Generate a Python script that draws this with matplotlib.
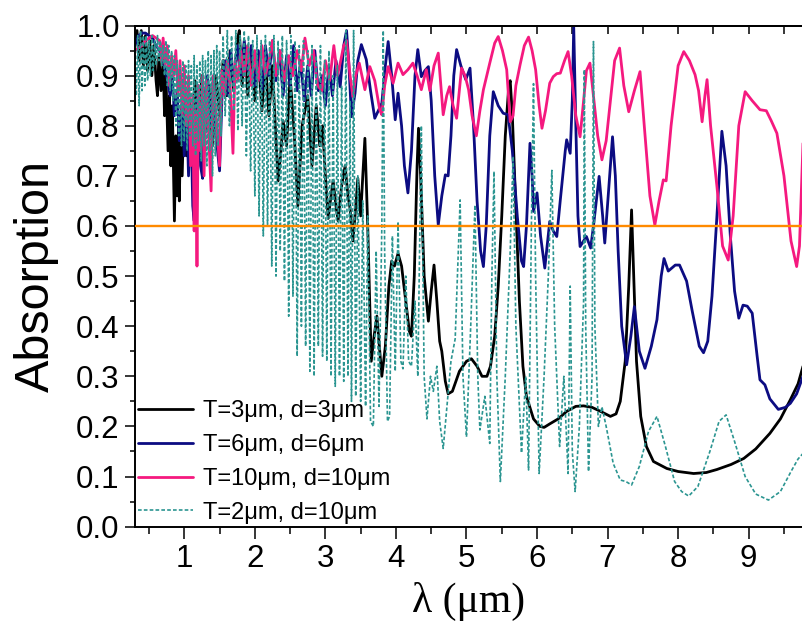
import matplotlib
matplotlib.use("Agg")
import matplotlib.pyplot as plt
from matplotlib.ticker import MultipleLocator

# ---------------- data ----------------
labels = ["T=3μm, d=3μm", "T=6μm, d=6μm", "T=10μm, d=10μm", "T=2μm, d=10μm"]
threshold = 0.6

black_x = [0.30, 0.33, 0.36, 0.39, 0.42, 0.45, 0.48, 0.51, 0.54, 0.57,
           0.60, 0.62, 0.64, 0.67, 0.70, 0.72, 0.74, 0.77, 0.79, 0.81,
           0.83, 0.86, 0.88, 0.90, 0.92, 0.93, 0.95, 0.97, 1.00, 1.03,
           1.06, 1.10, 1.15, 1.20, 1.25, 1.30, 1.35, 1.40, 1.45, 1.50,
           1.55, 1.60, 1.65, 1.70, 1.75, 1.78, 1.82, 1.86, 1.90, 1.95,
           2.00, 2.05, 2.10, 2.15, 2.20, 2.25, 2.29, 2.33, 2.37, 2.40,
           2.45, 2.50, 2.56, 2.61, 2.67, 2.75, 2.81, 2.87, 2.92, 2.96,
           3.00, 3.04, 3.08, 3.11, 3.15, 3.18, 3.23, 3.28, 3.32, 3.35,
           3.39, 3.42, 3.46, 3.50, 3.53, 3.56, 3.60, 3.65, 3.69, 3.73,
           3.77, 3.80, 3.85, 3.90, 3.94, 3.98, 4.03, 4.08, 4.14, 4.19,
           4.22, 4.26, 4.30, 4.32, 4.35, 4.40, 4.46, 4.50, 4.54, 4.58,
           4.62, 4.65, 4.70, 4.74, 4.80, 4.90, 5.00, 5.07, 5.15, 5.22,
           5.29, 5.34, 5.40, 5.45, 5.50, 5.55, 5.60, 5.62, 5.65, 5.71,
           5.75, 5.80, 5.85, 5.95, 6.04, 6.10, 6.18, 6.30, 6.42, 6.55,
           6.66, 6.78, 6.90, 7.04, 7.12, 7.18, 7.25, 7.30, 7.34, 7.37,
           7.41, 7.47, 7.55, 7.65, 7.84, 8.00, 8.22, 8.40, 8.55, 8.75,
           8.93, 9.10, 9.30, 9.45, 9.59, 9.70, 9.77]
black_y = [0.97, 0.99, 0.93, 0.99, 0.92, 0.98, 0.91, 0.97, 0.90, 0.96,
           0.89, 0.86, 0.94, 0.87, 0.93, 0.82, 0.90, 0.75, 0.86, 0.72,
           0.84, 0.61, 0.78, 0.66, 0.80, 0.65, 0.82, 0.70, 0.86, 0.74,
           0.88, 0.76, 0.89, 0.80, 0.90, 0.79, 0.88, 0.76, 0.90, 0.82,
           0.93, 0.86, 0.95, 0.87, 0.97, 0.99, 0.88, 0.96, 0.86, 0.95,
           0.85, 0.94, 0.83, 0.93, 0.82, 0.92, 0.80, 0.69, 0.75, 0.81,
           0.76, 0.90, 0.78, 0.64, 0.80, 0.86, 0.72, 0.84, 0.76, 0.80,
           0.70, 0.615, 0.66, 0.69, 0.64, 0.61, 0.68, 0.72, 0.66, 0.635,
           0.57, 0.62, 0.695, 0.62, 0.70, 0.775, 0.60, 0.33, 0.38, 0.42,
           0.35, 0.30, 0.36, 0.48, 0.53, 0.52, 0.545, 0.52, 0.45, 0.39,
           0.38, 0.50, 0.72, 0.795, 0.70, 0.50, 0.41, 0.47, 0.522, 0.45,
           0.37, 0.35, 0.29, 0.265, 0.27, 0.31, 0.33, 0.335, 0.32, 0.30,
           0.30, 0.32, 0.38, 0.48, 0.62, 0.78, 0.88, 0.89, 0.82, 0.60,
           0.45, 0.32, 0.26, 0.215, 0.20, 0.198, 0.205, 0.215, 0.23, 0.24,
           0.241, 0.238, 0.23, 0.22, 0.225, 0.25, 0.33, 0.48, 0.632, 0.50,
           0.33, 0.22, 0.16, 0.13, 0.116, 0.11, 0.106, 0.108, 0.114, 0.124,
           0.136, 0.155, 0.186, 0.215, 0.253, 0.285, 0.32]

navy_x = [0.30, 0.35, 0.40, 0.45, 0.50, 0.55, 0.60, 0.65, 0.70, 0.75,
          0.80, 0.83, 0.86, 0.90, 0.93, 0.97, 1.00, 1.03, 1.06, 1.09,
          1.12, 1.14, 1.16, 1.20, 1.23, 1.26, 1.29, 1.33, 1.37, 1.41,
          1.45, 1.50, 1.54, 1.58, 1.62, 1.66, 1.70, 1.75, 1.80, 1.85,
          1.90, 1.95, 2.00, 2.05, 2.10, 2.15, 2.20, 2.25, 2.30, 2.35,
          2.40, 2.45, 2.50, 2.55, 2.60, 2.65, 2.70, 2.75, 2.80, 2.85,
          2.90, 2.95, 3.00, 3.05, 3.10, 3.15, 3.21, 3.26, 3.30, 3.33,
          3.37, 3.42, 3.46, 3.51, 3.58, 3.64, 3.70, 3.75, 3.80, 3.85,
          3.89, 3.94, 3.99, 4.03, 4.08, 4.12, 4.17, 4.22, 4.27, 4.31,
          4.36, 4.41, 4.46, 4.50, 4.55, 4.60, 4.65, 4.70, 4.74, 4.78,
          4.82, 4.86, 4.92, 4.99, 5.05, 5.10, 5.15, 5.20, 5.24, 5.28,
          5.33, 5.38, 5.45, 5.52, 5.59, 5.65, 5.72, 5.78, 5.81, 5.85,
          5.90, 5.93, 5.95, 6.00, 6.05, 6.11, 6.18, 6.23, 6.28, 6.33,
          6.40, 6.42, 6.47, 6.50, 6.52, 6.55, 6.58, 6.61, 6.70, 6.76,
          6.80, 6.88, 6.93, 6.96, 7.02, 7.07, 7.11, 7.15, 7.20, 7.27,
          7.33, 7.38, 7.45, 7.53, 7.62, 7.70, 7.76, 7.80, 7.86, 7.96,
          8.02, 8.12, 8.20, 8.30, 8.36, 8.42, 8.48, 8.55, 8.62, 8.68,
          8.74, 8.80, 8.86, 8.92, 8.98, 9.05, 9.12, 9.16, 9.23, 9.30,
          9.42, 9.52, 9.59, 9.68, 9.77]
navy_y = [0.96, 0.98, 0.985, 0.985, 0.98, 0.975, 0.96, 0.95, 0.93, 0.90,
          0.86, 0.90, 0.82, 0.87, 0.77, 0.85, 0.74, 0.86, 0.70, 0.84,
          0.64, 0.61, 0.80, 0.88, 0.72, 0.695, 0.86, 0.90, 0.80, 0.89,
          0.78, 0.71, 0.88, 0.93, 0.86, 0.95, 0.88, 0.96, 0.90, 0.97,
          0.91, 0.96, 0.88, 0.95, 0.87, 0.96, 0.90, 0.97, 0.89, 0.95,
          0.86, 0.94, 0.88, 0.96, 0.87, 0.93, 0.85, 0.92, 0.86, 0.95,
          0.87, 0.90, 0.84, 0.92, 0.86, 0.93, 0.878, 0.96, 0.99, 0.93,
          0.818, 0.865, 0.93, 0.962, 0.932, 0.87, 0.815, 0.83, 0.845, 0.92,
          0.968, 0.90, 0.812, 0.865, 0.80, 0.72, 0.666, 0.75, 0.90, 0.952,
          0.898, 0.91, 0.918, 0.85, 0.70, 0.602, 0.66, 0.702, 0.70, 0.78,
          0.90, 0.952, 0.92, 0.892, 0.915, 0.80, 0.65, 0.55, 0.519, 0.60,
          0.78, 0.868, 0.84, 0.825, 0.822, 0.75, 0.62, 0.53, 0.519, 0.60,
          0.765, 0.70, 0.629, 0.666, 0.58, 0.516, 0.609, 0.59, 0.579, 0.652,
          0.75, 0.772, 0.745, 0.85, 0.998, 0.80, 0.62, 0.559, 0.579, 0.556,
          0.60, 0.699, 0.62, 0.566, 0.68, 0.778, 0.70, 0.55, 0.40, 0.323,
          0.38, 0.439, 0.35, 0.316, 0.36, 0.413, 0.50, 0.535, 0.51, 0.522,
          0.522, 0.49, 0.43, 0.36, 0.347, 0.37, 0.46, 0.62, 0.789, 0.72,
          0.58, 0.47, 0.416, 0.442, 0.44, 0.426, 0.34, 0.293, 0.283, 0.255,
          0.234, 0.238, 0.246, 0.265, 0.30]

pink_x = [0.30, 0.35, 0.40, 0.45, 0.50, 0.55, 0.60, 0.65, 0.68, 0.70,
          0.73, 0.76, 0.79, 0.82, 0.85, 0.88, 0.91, 0.94, 0.97, 1.00,
          1.03, 1.06, 1.09, 1.12, 1.14, 1.16, 1.18, 1.20, 1.23, 1.26,
          1.28, 1.31, 1.34, 1.38, 1.41, 1.45, 1.50, 1.53, 1.57, 1.61,
          1.65, 1.69, 1.72, 1.76, 1.80, 1.85, 1.90, 1.95, 2.00, 2.05,
          2.10, 2.15, 2.20, 2.25, 2.30, 2.36, 2.42, 2.48, 2.54, 2.60,
          2.66, 2.71, 2.77, 2.83, 2.89, 2.95, 3.00, 3.06, 3.12, 3.17,
          3.21, 3.26, 3.30, 3.35, 3.39, 3.43, 3.48, 3.56, 3.63, 3.70,
          3.77, 3.80, 3.84, 3.89, 3.96, 4.03, 4.10, 4.17, 4.24, 4.30,
          4.36, 4.43, 4.48, 4.54, 4.60, 4.67, 4.72, 4.76, 4.81, 4.86,
          4.93, 4.98, 5.03, 5.08, 5.14, 5.19, 5.24, 5.33, 5.40, 5.45,
          5.51, 5.57, 5.62, 5.66, 5.70, 5.76, 5.82, 5.88, 5.93, 5.98,
          6.03, 6.07, 6.12, 6.18, 6.23, 6.28, 6.33, 6.39, 6.44, 6.49,
          6.55, 6.61, 6.66, 6.70, 6.75, 6.80, 6.86, 6.92, 6.98, 7.04,
          7.10, 7.17, 7.23, 7.30, 7.38, 7.46, 7.52, 7.60, 7.67, 7.73,
          7.79, 7.83, 7.90, 8.00, 8.08, 8.16, 8.24, 8.29, 8.34, 8.38,
          8.41, 8.46, 8.55, 8.63, 8.71, 8.78, 8.86, 8.95, 9.05, 9.16,
          9.25, 9.32, 9.40, 9.50, 9.60, 9.68, 9.72, 9.77]
pink_y = [0.95, 0.955, 0.96, 0.97, 0.975, 0.98, 0.975, 0.97, 0.93, 0.975,
          0.92, 0.96, 0.88, 0.94, 0.90, 0.95, 0.86, 0.93, 0.82, 0.92,
          0.80, 0.90, 0.72, 0.86, 0.59, 0.83, 0.52, 0.88, 0.75, 0.90,
          0.70, 0.89, 0.80, 0.67, 0.90, 0.82, 0.72, 0.91, 0.86, 0.93,
          0.88, 0.745, 0.93, 0.89, 0.95, 0.90, 0.96, 0.88, 0.95, 0.89,
          0.96, 0.90, 0.93, 0.97, 0.90, 0.95, 0.89, 0.94, 0.90, 0.95,
          0.91, 0.975, 0.92, 0.95, 0.88, 0.87, 0.93, 0.89, 0.96, 0.90,
          0.925, 0.96, 0.97, 0.90, 0.858, 0.90, 0.925, 0.872, 0.918, 0.89,
          0.832, 0.822, 0.88, 0.918, 0.885, 0.925, 0.902, 0.912, 0.925, 0.90,
          0.872, 0.912, 0.87, 0.92, 0.945, 0.822, 0.86, 0.878, 0.84, 0.815,
          0.915, 0.90, 0.872, 0.82, 0.78, 0.83, 0.872, 0.925, 0.965, 0.978,
          0.95, 0.912, 0.808, 0.82, 0.88, 0.922, 0.96, 0.977, 0.95, 0.912,
          0.84, 0.795, 0.83, 0.885, 0.898, 0.904, 0.905, 0.93, 0.948, 0.90,
          0.82, 0.778, 0.85, 0.91, 0.925, 0.86, 0.78, 0.732, 0.77, 0.85,
          0.93, 0.955, 0.88, 0.828, 0.87, 0.908, 0.80, 0.66, 0.602, 0.65,
          0.692, 0.69, 0.80, 0.92, 0.948, 0.93, 0.902, 0.87, 0.808, 0.86,
          0.892, 0.80, 0.679, 0.56, 0.532, 0.62, 0.80, 0.868, 0.85, 0.832,
          0.83, 0.81, 0.785, 0.70, 0.57, 0.519, 0.56, 0.765]

teal_x = [0.30, 0.32, 0.34, 0.36, 0.38, 0.40, 0.42, 0.44, 0.46, 0.48,
          0.50, 0.52, 0.54, 0.56, 0.58, 0.60, 0.62, 0.64, 0.66, 0.68,
          0.70, 0.72, 0.74, 0.76, 0.78, 0.80, 0.82, 0.84, 0.86, 0.88,
          0.90, 0.92, 0.94, 0.96, 0.98, 1.00, 1.02, 1.04, 1.06, 1.08,
          1.10, 1.12, 1.14, 1.16, 1.18, 1.20, 1.22, 1.24, 1.26, 1.28,
          1.30, 1.32, 1.34, 1.36, 1.38, 1.40, 1.42, 1.44, 1.46, 1.48,
          1.50, 1.52, 1.55, 1.58, 1.61, 1.64, 1.67, 1.70, 1.73, 1.76,
          1.79, 1.82, 1.85, 1.88, 1.91, 1.94, 1.97, 2.00, 2.03, 2.06,
          2.09, 2.12, 2.15, 2.18, 2.21, 2.24, 2.27, 2.30, 2.33, 2.36,
          2.39, 2.42, 2.45, 2.48, 2.51, 2.54, 2.57, 2.60, 2.63, 2.66,
          2.69, 2.72, 2.75, 2.78, 2.81, 2.84, 2.87, 2.90, 2.93, 2.96,
          2.99, 3.02, 3.05, 3.08, 3.11, 3.14, 3.17, 3.20, 3.23, 3.26,
          3.29, 3.32, 3.35, 3.37, 3.40, 3.43, 3.46, 3.50, 3.53, 3.57,
          3.60, 3.64, 3.68, 3.72, 3.76, 3.80, 3.82, 3.84, 3.88, 3.91,
          3.95, 3.99, 4.03, 4.07, 4.10, 4.14, 4.18, 4.22, 4.27, 4.31,
          4.36, 4.40, 4.44, 4.49, 4.53, 4.58, 4.62, 4.67, 4.73, 4.78,
          4.84, 4.91, 4.95, 5.00, 5.06, 5.12, 5.16, 5.19, 5.26, 5.33,
          5.36, 5.39, 5.43, 5.48, 5.55, 5.62, 5.66, 5.70, 5.78, 5.84,
          5.88, 5.92, 5.95, 5.98, 6.03, 6.10, 6.16, 6.21, 6.25, 6.32,
          6.38, 6.44, 6.47, 6.50, 6.54, 6.60, 6.66, 6.67, 6.69, 6.73,
          6.78, 6.80, 6.82, 6.87, 6.92, 6.98, 7.08, 7.18, 7.26, 7.34,
          7.45, 7.58, 7.70, 7.82, 7.95, 8.05, 8.15, 8.28, 8.45, 8.58,
          8.68, 8.80, 8.95, 9.10, 9.28, 9.45, 9.60, 9.70, 9.77]
teal_y = [0.95, 0.86, 0.98, 0.84, 0.99, 0.87, 0.98, 0.88, 0.98, 0.89,
          0.97, 0.90, 0.98, 0.91, 0.97, 0.92, 0.98, 0.93, 0.97, 0.92,
          0.96, 0.90, 0.97, 0.88, 0.96, 0.87, 0.95, 0.85, 0.94, 0.80,
          0.93, 0.78, 0.92, 0.76, 0.93, 0.77, 0.92, 0.75, 0.93, 0.78,
          0.92, 0.76, 0.94, 0.74, 0.92, 0.77, 0.93, 0.73, 0.94, 0.76,
          0.93, 0.72, 0.95, 0.75, 0.94, 0.70, 0.95, 0.74, 0.96, 0.76,
          0.95, 0.78, 0.98, 0.82, 0.99, 0.80, 0.98, 0.83, 0.99, 0.79,
          0.98, 0.80, 0.99, 0.74, 0.98, 0.71, 0.97, 0.66, 0.98, 0.62,
          0.97, 0.58, 0.98, 0.60, 0.97, 0.52, 0.98, 0.50, 0.97, 0.55,
          0.98, 0.49, 0.97, 0.42, 0.98, 0.46, 0.97, 0.34, 0.96, 0.40,
          0.97, 0.36, 0.95, 0.31, 0.96, 0.30, 0.94, 0.36, 0.96, 0.34,
          0.93, 0.33, 0.95, 0.30, 0.90, 0.28, 0.92, 0.30, 0.88, 0.29,
          0.99, 0.30, 0.85, 0.25, 0.99, 0.26, 0.70, 0.25, 0.65, 0.24,
          0.62, 0.21, 0.20, 0.55, 0.24, 0.60, 0.99, 0.55, 0.21, 0.22,
          0.58, 0.31, 0.606, 0.33, 0.315, 0.50, 0.33, 0.32, 0.45, 0.30,
          0.80, 0.30, 0.215, 0.30, 0.27, 0.32, 0.21, 0.156, 0.25, 0.33,
          0.375, 0.652, 0.30, 0.179, 0.40, 0.642, 0.30, 0.193, 0.26, 0.166,
          0.50, 0.709, 0.30, 0.09, 0.30, 0.55, 0.739, 0.40, 0.147, 0.30,
          0.113, 0.60, 0.884, 0.50, 0.106, 0.30, 0.50, 0.711, 0.40, 0.16,
          0.30, 0.106, 0.48, 0.15, 0.07, 0.20, 0.45, 0.912, 0.40, 0.11,
          0.30, 0.968, 0.40, 0.20, 0.239, 0.20, 0.126, 0.093, 0.09, 0.083,
          0.12, 0.19, 0.22, 0.16, 0.09, 0.07, 0.061, 0.08, 0.15, 0.21,
          0.223, 0.17, 0.10, 0.065, 0.053, 0.07, 0.11, 0.135, 0.146]

# ---------------- figure ----------------
plt.rcParams['font.family'] = ['Liberation Sans', 'DejaVu Sans']
fig = plt.figure(figsize=(8.03, 6.23), dpi=100)
ax = fig.add_axes([0.168, 0.1547, 0.832, 0.8043])

line_kw = dict(lw=2.0, solid_joinstyle='round', solid_capstyle='round')
ax.plot(black_x, black_y, color='black', label=labels[0], **line_kw)
ax.plot(navy_x, navy_y, color='#0c0c82', label=labels[1], **line_kw)
ax.plot(pink_x, pink_y, color='#f5197f', label=labels[2], **line_kw)
ax.plot(teal_x, teal_y, color='#2b9591', lw=1.2, ls=(0, (2.2, 1.3)), label=labels[3])
ax.axhline(threshold, color='#ff8a00', lw=1.7, zorder=6)

ax.set_xlim(0.3, 9.77)
ax.set_ylim(0.0, 1.0)
ax.xaxis.set_major_locator(MultipleLocator(1))
ax.xaxis.set_minor_locator(MultipleLocator(0.5))
ax.yaxis.set_major_locator(MultipleLocator(0.1))
ax.yaxis.set_minor_locator(MultipleLocator(0.05))
ax.yaxis.set_major_formatter(plt.FormatStrFormatter('%.1f'))

ax.tick_params(axis='x', which='major', direction='out', length=8.5, width=1.1,
               labelsize=22.5, pad=4, top=False)
ax.tick_params(axis='x', which='minor', direction='out', length=4.8, width=1.1, top=False)
ax.tick_params(axis='y', which='major', direction='out', length=7.5, width=1.1,
               labelsize=22.5, pad=3.5, right=False)
ax.tick_params(axis='y', which='minor', direction='out', length=3.8, width=1.1, right=False)

for s in ['left', 'bottom', 'top']:
    ax.spines[s].set_linewidth(1.4)
ax.spines['right'].set_visible(False)

sec = ax.secondary_xaxis('top')
sec.xaxis.set_major_locator(MultipleLocator(0.5))
sec.tick_params(axis='x', direction='in', length=6, width=1.1, labeltop=False)
sec.spines['top'].set_linewidth(1.4)

ax.set_xlabel('λ (μm)', fontsize=30, family=['Liberation Serif', 'DejaVu Serif'], labelpad=6)
ax.set_ylabel('Absorption', fontsize=35, labelpad=12)

ax.legend(loc='lower left', bbox_to_anchor=(0.004, 0.006), frameon=False, fontsize=17,
          handlelength=2.35, handletextpad=0.4, labelspacing=0.5,
          borderpad=0, borderaxespad=0)

fig.savefig('out.png', dpi=100)
